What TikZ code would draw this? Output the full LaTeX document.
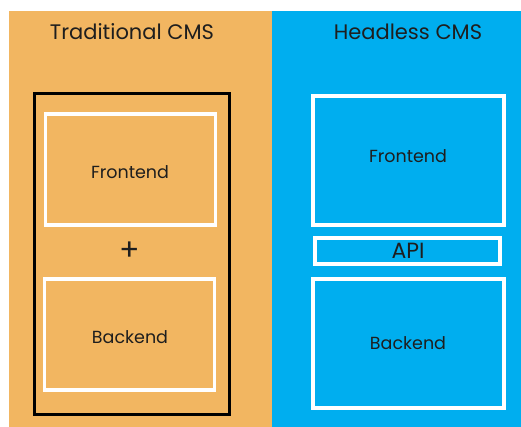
\documentclass[tikz,border=0pt]{standalone}
\usepackage{fontspec}
\setmainfont{Poppins}
\definecolor{orangebg}{HTML}{F2B661}
\definecolor{bluebg}{HTML}{00AEEF}
\definecolor{txt}{HTML}{1E1E1E}
\begin{document}
\begin{tikzpicture}[x=1pt,y=-1pt,
  wbox/.style={draw=white,line width=3.5pt},
  lbl/.style={text=txt,font=\fontsize{17.5}{20}\selectfont},
  ttl/.style={text=txt,font=\fontsize{21}{24}\selectfont}]
\useasboundingbox (0,0) rectangle (521,427);
\fill[orangebg] (9,11) rectangle (272,427);
\fill[bluebg] (272,11) rectangle (521,427);
\node[ttl] (t1) at (132,32) {Traditional CMS};
\node[ttl] (t2) at (408,32) {Headless CMS};
% traditional
\draw[black,line width=3pt] (34,94) rectangle (229,414);
\draw[wbox] (45.5,114) rectangle (215.5,225);
\draw[wbox] (44.5,279) rectangle (214.5,390);
\node[lbl] (f1) at (130,172) {Frontend};
\node[text=txt,font=\fontsize{30}{32}\selectfont] (plus) at (130,251) {+};
\node[lbl] (b1) at (130,337) {Backend};
% headless
\draw[wbox] (313,96) rectangle (504,225);
\draw[wbox] (315,238) rectangle (500,264);
\draw[wbox] (313,279) rectangle (504,408);
\node[lbl] (f2) at (408,156) {Frontend};
\node[text=txt,font=\fontsize{22}{24}\selectfont] (api) at (408,251) {API};
\node[lbl] (b2) at (408,343) {Backend};
\end{tikzpicture}
\end{document}
